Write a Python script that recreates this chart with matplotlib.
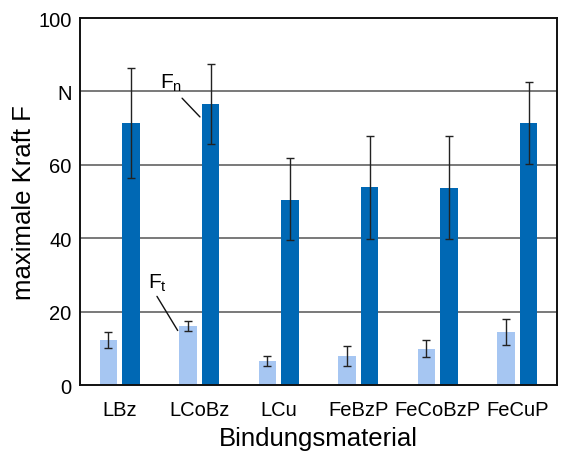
import matplotlib
matplotlib.use("Agg")
import matplotlib.pyplot as plt
import numpy as np

categories = ["LBz", "LCoBz", "LCu", "FeBzP", "FeCoBzP", "FeCuP"]
ft_values = [12.3, 16.0, 6.5, 7.9, 9.8, 14.5]
ft_err_low = [2.2, 1.2, 1.3, 2.6, 2.2, 3.5]
ft_err_high = [2.1, 1.4, 1.4, 2.7, 2.5, 3.5]
fn_values = [71.3, 76.6, 50.5, 53.9, 53.7, 71.4]
fn_err_low = [15.0, 10.9, 10.9, 14.0, 13.8, 11.1]
fn_err_high = [15.1, 11.0, 11.4, 14.0, 14.2, 11.3]
y_ticks = [0, 20, 40, 60, 80, 100]
y_tick_labels = ["0", "20", "40", "60", "N", "100"]

plt.rcParams['font.family'] = ['Liberation Sans', 'DejaVu Sans']

fig = plt.figure(figsize=(5.65, 4.56), dpi=100)
ax = fig.add_axes([0.1416, 0.1535, 0.8442, 0.8048])

x = np.arange(len(categories))
w = 0.22
off = 0.143
light = "#A6C6F2"
dark = "#0068B4"

ax.bar(x - off, ft_values, width=w, color=light, zorder=2,
       yerr=[ft_err_low, ft_err_high], error_kw=dict(ecolor="#222222", elinewidth=1.0, capsize=2.8, capthick=1.0))
ax.bar(x + off, fn_values, width=w, color=dark, zorder=2,
       yerr=[fn_err_low, fn_err_high], error_kw=dict(ecolor="#222222", elinewidth=1.0, capsize=2.8, capthick=1.0))

ax.set_xlim(-0.5, len(categories) - 0.5)
ax.set_ylim(0, 100)
ax.set_yticks(y_ticks)
ax.set_yticklabels(y_tick_labels)
ax.set_xticks(x)
ax.set_xticklabels(categories)
ax.tick_params(axis='both', length=0, labelsize=14.5)
ax.tick_params(axis='x', pad=11)
ax.tick_params(axis='y', pad=6)

for yv in y_ticks[1:-1]:
    ax.axhline(yv, color="#555555", linewidth=1.1, zorder=1)

for s in ax.spines.values():
    s.set_linewidth(1.4)
    s.set_color("#111111")

ax.set_ylabel("maximale Kraft F", fontsize=18.5, labelpad=2)
ax.set_xlabel("Bindungsmaterial", fontsize=18.5, labelpad=5)

# annotations
ax.annotate("", xy=(1 + off - w / 2, 72.5), xytext=(0.76, 78.7),
            arrowprops=dict(arrowstyle="-", color="#111111", lw=1.0))
ax.text(0.64, 82.5, r"F$_\mathregular{n}$", fontsize=15, ha="center", va="center")
ax.annotate("", xy=(1 - off - w / 2, 14.2), xytext=(0.45, 24.8),
            arrowprops=dict(arrowstyle="-", color="#111111", lw=1.0))
ax.text(0.47, 28.0, r"F$_\mathregular{t}$", fontsize=15, ha="center", va="center")

fig.savefig("out.png", dpi=100)
